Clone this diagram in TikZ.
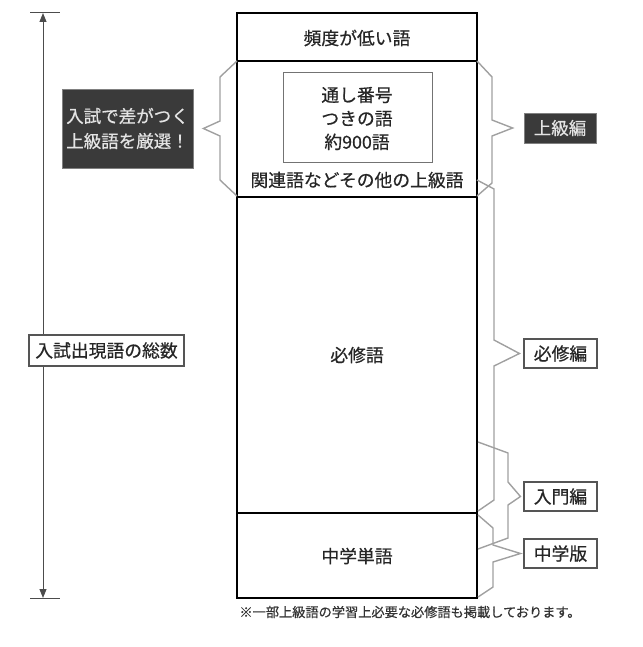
\documentclass[tikz,border=0pt]{standalone}
\usepackage{fontspec}
\setmainfont[FakeBold=0.6]{Noto Sans CJK JP}
\usetikzlibrary{arrows.meta}
\definecolor{bracegray}{HTML}{A0A0A0}
\definecolor{darkfill}{HTML}{3A3A3A}
\definecolor{lightText}{HTML}{E4E4E4}
\definecolor{framegray}{HTML}{555555}
\begin{document}
\begin{tikzpicture}[x=1pt,y=-1pt,
  bigtext/.style={font=\fontsize{17.8pt}{23.5pt}\selectfont, text=black!85},
  rowbox/.style={draw=black, line width=1.8pt, minimum width=240pt, inner sep=0pt},
  labelbox/.style={draw=framegray, line width=1.1pt, fill=white, inner sep=0pt, font=\fontsize{17.8pt}{20pt}\selectfont, text=black!85},
  darkbox/.style={draw=gray, line width=0.8pt, fill=darkfill, text=lightText, inner sep=0pt, align=center, font=\fontsize{17.5pt}{25pt}\selectfont},
  bracel/.style={draw=bracegray, line width=1.4pt, line join=miter},
  measure/.style={draw=black!70, line width=1pt}
]
\useasboundingbox (0,0) rectangle (642,647);

% main column rows
\node[rowbox, minimum height=48pt] (rowA) at (357,37) {};
\node[rowbox, minimum height=136pt] (rowB) at (357,129) {};
\node[rowbox, minimum height=316pt] (rowC) at (357,355) {};
\node[rowbox, minimum height=85pt] (rowD) at (357,555.5) {};

\node[bigtext] (tA) at (357,38) {頻度が低い語};
\node[draw=black!55, line width=0.8pt, minimum width=149pt, minimum height=90pt, inner sep=0pt] (inner) at (357.5,117) {};
\node[bigtext, align=center] (tInner) at (357,118.5) {通し番号\\つきの語\\約900語};
\node[bigtext] (tB) at (357,180) {関連語などその他の上級語};
\node[bigtext] (tC) at (357,355) {必修語};
\node[bigtext] (tD) at (357,556) {中学単語};

% left measure arrow
\coordinate (mTop) at (43,13);
\coordinate (mBot) at (43,598);
\draw[measure] (30,13) -- (60,13);
\draw[measure] (30,598) -- (60,598);
\draw[measure, {Triangle[length=9pt,width=7pt]}-{Triangle[length=9pt,width=7pt]}] (mTop) -- (mBot);
\node[labelbox, minimum width=155pt, minimum height=31pt] (total) at (106.5,350.5) {入試出現語の総数};

% left dark callout
\node[darkbox, minimum width=131pt, minimum height=79pt] (sel) at (127.5,128.5) {入試で差がつく\\上級語を厳選！};
\draw[bracel] (237,61) -- (220,77) -- (220,121) -- ([xshift=10pt]sel.east) -- (220,136) -- (220,180) -- (237,196);

% right labels
\node[darkbox, minimum width=72pt, minimum height=30pt] (jo) at (560,128) {上級編};
\node[labelbox, minimum width=73pt, minimum height=29pt] (hi) at (560.5,353.5) {必修編};
\node[labelbox, minimum width=73pt, minimum height=29pt] (nyu) at (560.5,496.5) {入門編};
\node[labelbox, minimum width=73pt, minimum height=29pt] (chu) at (560.5,553.5) {中学版};

% right braces
\draw[bracel] (477,61) -- (492,77) -- (492,120) -- ([xshift=-11pt]jo.west) -- (492,136) -- (492,183) -- (477,196);
\draw[bracel] (477,180) -- (494,189) -- (494,340) -- ([xshift=-4pt]hi.west) -- (494,366) -- (494,500) -- (478,511);
\draw[bracel] (478,442) -- (508,453) -- (508,482) -- ([xshift=-3pt]nyu.west) -- (508,505) -- (508,538) -- (478,549);
\draw[bracel] (478,515) -- (493,528) -- (493,545) -- ([xshift=-3pt]chu.west) -- (493,562) -- (493,587) -- (478,597);

% footnote
\node[font=\fontsize{13.2pt}{15pt}\selectfont, text=black!80] (note) at (410,612) {※一部上級語の学習上必要な必修語も掲載しております。};
\end{tikzpicture}
\end{document}
